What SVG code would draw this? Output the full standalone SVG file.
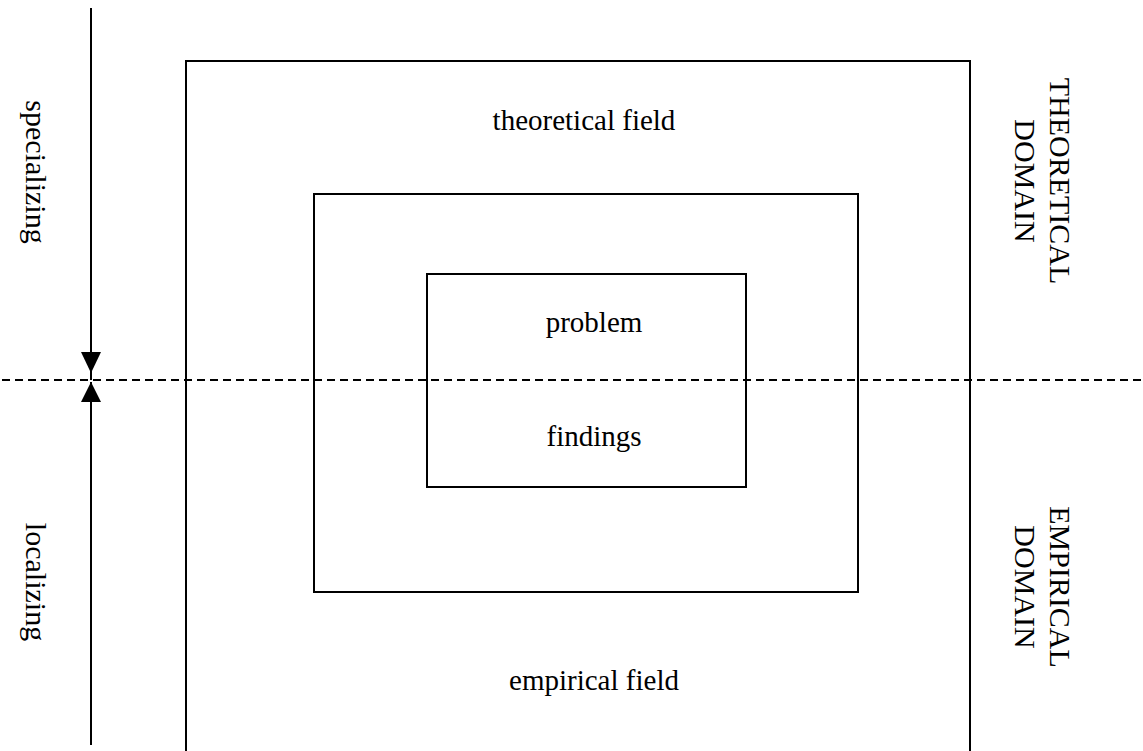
<svg xmlns="http://www.w3.org/2000/svg" width="1143" height="751" viewBox="0 0 1143 751">
<style>
.box{fill:none;stroke:#000;stroke-width:2}
.t{font-family:"Liberation Serif","Times New Roman",serif;font-size:29px;fill:#000;text-anchor:middle}
.r{font-size:30px}
.ln{stroke:#000;stroke-width:2;fill:none}
.dash{stroke:#000;stroke-width:2;stroke-dasharray:8,5;fill:none}
</style>
<rect width="1143" height="751" fill="#fff"/>
<g id="theoretical-field">
<rect class="box" x="186" y="61" width="784" height="710"/>
<text class="t" x="584" y="130">theoretical field</text>
<text class="t" x="594" y="690">empirical field</text>
</g>
<g id="middle-box">
<rect class="box" x="314" y="194" width="544" height="398"/>
</g>
<g id="problem-findings">
<rect class="box" x="427" y="274" width="319" height="213"/>
<text class="t" x="594" y="332">problem</text>
<text class="t" x="594" y="446">findings</text>
</g>
<g id="labels">
<text class="t r" transform="translate(26,172) rotate(90)">specializing</text>
<text class="t r" transform="translate(26,582) rotate(90)">localizing</text>
<text class="t r" transform="translate(1050,181) rotate(90)">THEORETICAL<tspan x="0" dy="35">DOMAIN</tspan></text>
<text class="t r" transform="translate(1050,587) rotate(90)">EMPIRICAL<tspan x="0" dy="35">DOMAIN</tspan></text>
</g>
<g id="connectors">
<line class="dash" x1="2" y1="380" x2="1143" y2="380"/>
<line class="ln" x1="91" y1="8" x2="91" y2="380"/>
<polygon points="81,352 101,352 91,373" fill="#000"/>
<line class="ln" x1="91" y1="382" x2="91" y2="745"/>
<polygon points="91,382 81,402 101,402" fill="#000"/>
</g>
</svg>
